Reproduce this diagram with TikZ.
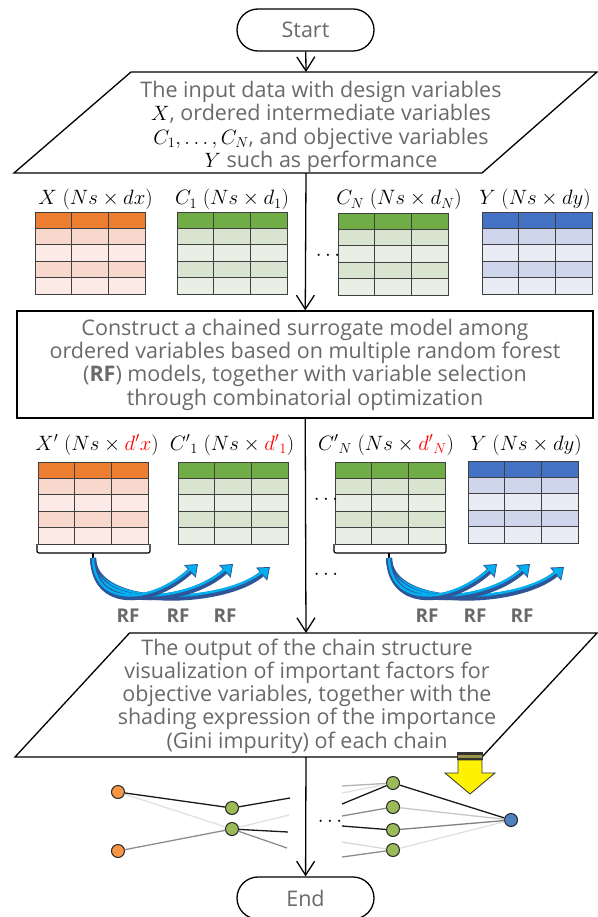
\documentclass[tikz,border=0pt]{standalone}
\usepackage{fontspec}
\setmainfont{Open Sans}
\usetikzlibrary{arrows.meta}

\definecolor{txtgray}{RGB}{105,105,105}
\definecolor{xhead}{RGB}{237,125,49}
\definecolor{xdark}{RGB}{248,215,204}
\definecolor{xlight}{RGB}{251,234,230}
\definecolor{chead}{RGB}{112,173,71}
\definecolor{cdark}{RGB}{216,228,208}
\definecolor{clight}{RGB}{233,239,229}
\definecolor{yhead}{RGB}{68,114,196}
\definecolor{ydark}{RGB}{207,213,234}
\definecolor{ylight}{RGB}{233,235,245}
\definecolor{rfdark}{RGB}{46,85,151}
\definecolor{rfcyan}{RGB}{0,176,240}
\definecolor{nodeorange}{RGB}{247,150,70}
\definecolor{nodegreen}{RGB}{155,187,89}
\definecolor{nodeblue}{RGB}{79,129,189}

% data table with header row: x, y (top left), header, dark row, light row
\newcommand{\datatable}[5]{%
  \begin{scope}[shift={(#1,#2)}]
    \fill[#3] (0,0) rectangle (110,16.4);
    \foreach \r in {1,3} \fill[#4] (0,16.4*\r) rectangle (110,16.4*\r+16.4);
    \foreach \r in {2,4} \fill[#5] (0,16.4*\r) rectangle (110,16.4*\r+16.4);
    \foreach \r in {1,...,4} \draw[grid] (0,16.4*\r) -- (110,16.4*\r);
    \foreach \c in {36.7,73.3} \draw[grid] (\c,0) -- (\c,82);
    \draw[grid] (0,0) rectangle (110,82);
  \end{scope}}

\begin{document}
\begin{tikzpicture}[x=1pt,y=-1pt,
    flowtxt/.style={font=\fontsize{21.5}{23.3}\selectfont, text=txtgray, align=center},
    terminal/.style={draw, line width=1.3, rounded corners=21, minimum width=137,
      minimum height=42, flowtxt},
    box/.style={draw, line width=1.3, minimum width=576, minimum height=107, flowtxt},
    flow/.style={line width=1.3, -{Straight Barb[length=14pt,width=18pt,line width=1.3pt]}},
    lbl/.style={font=\fontsize{20}{24}\selectfont, anchor=base, inner sep=0},
    grid/.style={black!75, line width=0.7},
    rf/.style={font=\fontsize{19}{24}\selectfont\bfseries, text=txtgray, anchor=base},
    rfarrow/.style={draw=rfdark, line width=6,
      -{Triangle[length=11pt,width=17pt,line width=0.8pt,fill=rfcyan]}},
    rflight/.style={draw=rfcyan, line width=2.4, shorten >=9pt},
    dot/.style={circle, draw=black!85, line width=1, minimum size=13, inner sep=0},
    edge/.style={line width=1.3}]
  \useasboundingbox (0,0) rectangle (597,917);

  % flowchart
  \node[terminal] (start) at (305.5,30) {Start};

  \draw[line width=1.3] (14,173) -- (131,72) -- (597,72) -- (482,173) -- cycle;
  \coordinate (intop) at (306,72);
  \coordinate (inbot) at (306,173);
  \node[flowtxt] (input) at (321,127) {The input data with design variables\\
    \textcolor{black}{$X$}, ordered intermediate variables\\
    \textcolor{black}{$C_1,\ldots,C_N$}, and objective variables\\
    \textcolor{black}{$Y$} such as performance};

  \node[box] (model) at (305,364.5) {Construct a chained surrogate model among\\
    ordered variables based on multiple random forest\\
    (\textbf{RF}) models, together with variable selection\\
    through combinatorial optimization};

  \draw[line width=1.3] (15,757) -- (129.5,633) -- (597,633) -- (482,757) -- cycle;
  \coordinate (outtop) at (306,633);
  \coordinate (outbot) at (306,757);
  \node[flowtxt] (output) at (307,696) {The output of the chain structure\\
    visualization of important factors for\\
    objective variables, together with the\\
    shading expression of the importance\\
    (Gini impurity) of each chain};

  \node[terminal] (stop) at (305.5,898) {End};

  \draw[flow] (start) -- (intop);
  \draw[flow] (inbot) -- (model);
  \draw[flow] (model) -- (outtop);
  \draw[flow] (outbot) -- (stop);

  % input tables
  \node[lbl] (lx) at (95.5,205) {$X\;(Ns\times dx)$};
  \node[lbl] (lc1) at (232,205) {$C_1\;(Ns\times d_1)$};
  \node[lbl] (lcn) at (399,205) {$C_N\;(Ns\times d_N)$};
  \node[lbl] (ly) at (535,205) {$Y\;(Ns\times dy)$};
  \datatable{35}{212}{xhead}{xdark}{xlight}
  \datatable{177}{212}{chead}{cdark}{clight}
  \datatable{338}{213}{chead}{cdark}{clight}
  \datatable{482}{212}{yhead}{ydark}{ylight}
  \node[lbl, anchor=center] (dots1) at (328,256) {$\cdots$};

  % selected tables
  \node[lbl] (lx2) at (97,450) {$X'\;(Ns\times \textcolor{red}{d'x})$};
  \node[lbl] (lc12) at (232,450) {${C'}_1\;(Ns\times \textcolor{red}{{d'}_1})$};
  \node[lbl] (lcn2) at (386,450) {${C'}_N\;(Ns\times \textcolor{red}{{d'}_N})$};
  \node[lbl] (ly2) at (526,450) {$Y\;(Ns\times dy)$};
  \datatable{38}{462}{xhead}{xdark}{xlight}
  \datatable{178}{462}{chead}{cdark}{clight}
  \datatable{335}{462}{chead}{cdark}{clight}
  \datatable{468}{461}{yhead}{ydark}{ylight}
  \node[lbl, anchor=center] (dots2) at (326,500) {$\cdots$};
  \node[lbl, anchor=center] (dots3) at (326,575) {$\cdots$};

  % brackets under the inputs of each RF
  \draw[line width=1.2, rounded corners=2] (37,544) -- (37,553) -- (150,553) -- (150,544);
  \draw[line width=1.2] (93,553) -- (93,558);
  \coordinate (bl) at (93,558);
  \draw[line width=1.2, rounded corners=2] (334,544) -- (334,553) -- (446,553) -- (446,544);
  \draw[line width=1.2] (389,553) -- (389,558);
  \coordinate (br) at (389,558);

  % RF arrows
  \foreach \hx/\hy in {270/567,233/564,198/564}{
    \draw[rfarrow] (bl) .. controls (94,610) and (\hx-46,606) .. (\hx,\hy);
    \draw[rflight, yshift=1.8pt] (bl) .. controls (94,610) and (\hx-46,606) .. (\hx,\hy);
  }
  \foreach \hx/\hy in {564/567,530/564,497/564}{
    \draw[rfarrow] (br) .. controls (390,610) and (\hx-46,606) .. (\hx,\hy);
    \draw[rflight, yshift=1.8pt] (br) .. controls (390,610) and (\hx-46,606) .. (\hx,\hy);
  }
  \foreach \x [count=\i] in {128,178,225,427,475,522}
    \node[rf] (rf\i) at (\x,622) {RF};

  % highlight arrow
  \draw[fill=yellow, draw=black!80, line width=0.8] (458,760) -- (482,760) -- (482,773)
    -- (495,773) -- (470,794) -- (445,773) -- (458,773) -- cycle;
  \fill[black!80] (457,752) rectangle (483,760);
  \fill[yellow!55!black] (458,754.5) rectangle (482,757.5);

  % chain structure
  \node[dot, fill=nodeorange] (o1) at (118,792) {};
  \node[dot, fill=nodeorange] (o2) at (118,851) {};
  \node[dot, fill=nodegreen] (g1) at (232,808) {};
  \node[dot, fill=nodegreen] (g2) at (232,829) {};
  \coordinate (ga) at (290,798);
  \coordinate (gb) at (289,815);
  \coordinate (gc) at (288,832);
  \coordinate (gd) at (287,848);
  \draw[edge, black!12] (o1) -- (g2);
  \draw[edge, black!45] (o2) -- (g2);
  \draw[edge, black!90] (o1) -- (g1);
  \draw[edge, black!90] (g1) -- (ga);
  \draw[edge, black!12] (g2) -- (gb);
  \draw[edge, black!90] (g2) -- (gc);
  \draw[edge, black!45] (g2) -- (gd);
  \node[lbl, anchor=center] (dots4) at (330,822) {$\cdots$};

  \node[dot, fill=nodegreen] (r1) at (393,783) {};
  \node[dot, fill=nodegreen] (r2) at (393,807) {};
  \node[dot, fill=nodegreen] (r3) at (393,830) {};
  \node[dot, fill=nodegreen] (r4) at (393,850) {};
  \node[dot, fill=nodeblue] (yout) at (511,820) {};
  \coordinate (re) at (342,786);
  \coordinate (rf) at (342,793);
  \coordinate (rg) at (342,804);
  \coordinate (rh) at (342,816);
  \coordinate (ri) at (342,826);
  \coordinate (rj) at (342,842);
  \coordinate (rk) at (342,857);
  \draw[edge, black!30] (re) -- (r1);
  \draw[edge, black!12] (rf) -- (r1);
  \draw[edge, black!90] (rg) -- (r1);
  \draw[edge, black!45] (rh) -- (r2);
  \draw[edge, black!90] (ri) -- (r3);
  \draw[edge, black!15] (rj) -- (r4);
  \draw[edge, black!45] (rk) -- (r4);
  \draw[edge, black!12] (r4) -- (yout);
  \draw[edge, black!22] (r2) -- (yout);
  \draw[edge, black!50] (r3) -- (yout);
  \draw[edge, black!90] (r1) -- (yout);
\end{tikzpicture}
\end{document}
